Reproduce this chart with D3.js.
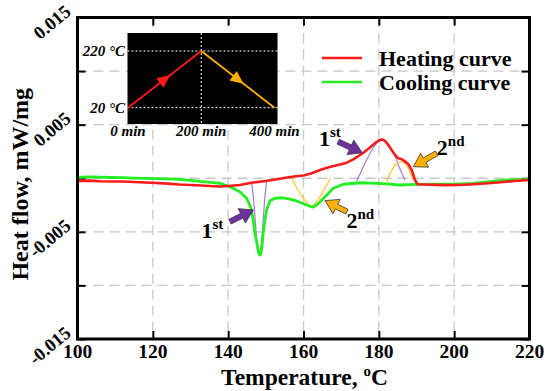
<!DOCTYPE html>
<html><head><meta charset="utf-8">
<script src="https://cdn.jsdelivr.net/npm/d3@7"></script>
<style>body{margin:0;background:#fff}svg{display:block}</style>
</head><body>
<svg id="c" width="550" height="391"></svg>
<script>
// ---------- data ----------
const xTicks = [100, 120, 140, 160, 180, 200, 220];
const yTicks = [-0.015, -0.010, -0.005, 0, 0.005, 0.010, 0.015];
const yLabelValues = [-0.015, -0.005, 0.005, 0.015];
const yLabelText = ["-0.015", "-0.005", "0.005", "0.015"];

const heatingTemp = [100,103,106,109,112,115,118,121,124,127,130,133,136,138,140,143,146.6,150,153,155.6,158,160,162,164.4,166,168,170,171.5,173.2,174.5,175.9,177.5,179,180.2,180.8,181.6,182.5,183.4,184.3,185.2,186.1,187.0,187.8,188.7,189.6,190.3,192,195,198,201,204,207,210,213,216,220];
const heatingFlow = [-0.00026,-0.00022,-0.00028,-0.00030,-0.00031,-0.00035,-0.00040,-0.00045,-0.00050,-0.00058,-0.00063,-0.00068,-0.00074,-0.00077,-0.00072,-0.00063,-0.00040,-0.00026,-0.00010,0.00007,0.00018,0.00026,0.00045,0.00077,0.00095,0.00114,0.00130,0.00145,0.00177,0.00205,0.00238,0.00282,0.00329,0.00355,0.00363,0.00350,0.00310,0.00264,0.00217,0.00186,0.00177,0.00155,0.00133,0.00077,-0.00016,-0.00056,-0.00058,-0.00062,-0.00064,-0.00063,-0.00058,-0.00052,-0.00044,-0.00035,-0.00026,-0.00016];

const coolingTemp = [100,103,106,109,112,115,118,121,124,127,130,133,136,137.8,140.5,143.1,144.9,145.7,146.2,146.7,147.1,147.6,148.0,148.3,148.6,148.9,149.3,149.8,150.2,151.1,152.4,154,155.5,158.2,160.8,162.4,163.5,164.4,166.2,167.9,170.6,175,179.4,182,185.6,190,195,200,205,210,214,220];
const coolingFlow = [0.00007,0.00012,0.00010,0.00007,0.00005,0.00002,-0.00001,-0.00003,-0.00006,-0.00010,-0.00020,-0.00032,-0.00040,-0.00047,-0.00079,-0.00125,-0.00187,-0.00250,-0.00296,-0.00400,-0.00511,-0.00600,-0.00680,-0.00716,-0.00710,-0.00660,-0.00511,-0.00380,-0.00296,-0.00210,-0.00187,-0.00182,-0.00187,-0.00212,-0.00250,-0.00271,-0.00250,-0.00219,-0.00156,-0.00094,-0.00056,-0.00042,-0.00047,-0.00052,-0.00063,-0.00058,-0.00056,-0.00054,-0.00047,-0.00030,-0.00016,-0.00010];

// deconvoluted component peaks
const coolPeak1Temp = [146.2,146.7,147.2,147.6,147.9,148.25,148.6,148.95,149.3,149.75,150.2];
const coolPeak1Flow = [-0.00032,-0.0018,-0.0040,-0.0058,-0.0067,-0.0071,-0.0068,-0.0056,-0.0039,-0.0018,-0.00032];
const coolPeak2Temp = [156.9,158.5,160.3,162.0,163.8,165.4,167.2];
const coolPeak2Flow = [0.00000,-0.00110,-0.00202,-0.00262,-0.00202,-0.00110,0.00000];
const heatPeak1Temp = [174.1,175.5,177.0,178.5,180.0,180.75,181.6,182.9,184.2,185.3,186.9];
const heatPeak1Flow = [-0.00026,0.00077,0.00189,0.00282,0.00348,0.00363,0.00352,0.00301,0.00217,0.00115,-0.00016];
const heatPeak2Temp = [182.1,183.2,184.6,186.1,187.1,188.0,189.1];
const heatPeak2Flow = [-0.00032,0.00058,0.00133,0.00154,0.00133,0.00077,-0.00016];

// annotation arrows: [tailT, tailV, tipT, tipV]
const arrowHeat1 = [169.2, 0.00341, 175.6, 0.00238];
const arrowHeat2 = [195.35, 0.00233, 189.15, 0.00108];
const arrowCool1 = [140.5, -0.00405, 146.7, -0.00296];
const arrowCool2 = [171.5, -0.00312, 165.7, -0.00209];
const labelNames = ["1", "2", "1", "2"];
const labelSups = ["st", "nd", "st", "nd"];
const labelTemp = [164.1, 195.4, 132.9, 171.4];
const labelFlow = [0.00301, 0.00217, -0.00557, -0.00464];

// inset program
const insetTime = [0, 200, 400];
const insetTemp = [20, 220, 20];
const insetTimeLabels = ["0 min", "200 min", "400 min"];
const insetTempLabels = ["20 °C", "220 °C"];

// ---------- drawing ----------
const svg = d3.select("#c");
const L = 77.5, R = 529.5, T = 17.5, B = 339;
const x = d3.scaleLinear().domain([100, 220]).range([L, R]);
const y = d3.scaleLinear().domain([-0.015, 0.015]).range([B, T]);
const serif = "'Liberation Serif','Times New Roman',serif";
const grid = "#c8c8c8";

// gridlines
svg.append("g").selectAll("line").data(xTicks.slice(1, -1)).join("line")
  .attr("x1", d => x(d)).attr("x2", d => x(d)).attr("y1", T).attr("y2", B)
  .attr("stroke", grid).attr("stroke-width", 1.3).attr("stroke-dasharray", "10,6");
svg.append("g").selectAll("line").data(yTicks.slice(1, -1)).join("line")
  .attr("y1", d => y(d)).attr("y2", d => y(d)).attr("x1", L).attr("x2", R)
  .attr("stroke", grid).attr("stroke-width", 1.3).attr("stroke-dasharray", "10,6");

// axes (ticks inward on all sides)
const tk = 8;
const axB = svg.append("g").attr("transform", `translate(0,${B})`).call(d3.axisTop(x).tickValues(xTicks).tickSize(tk).tickFormat(""));
const axT = svg.append("g").attr("transform", `translate(0,${T})`).call(d3.axisBottom(x).tickValues(xTicks).tickSize(tk).tickFormat(""));
const axL = svg.append("g").attr("transform", `translate(${L},0)`).call(d3.axisRight(y).tickValues(yTicks).tickSize(tk).tickFormat(""));
const axR = svg.append("g").attr("transform", `translate(${R},0)`).call(d3.axisLeft(y).tickValues(yTicks).tickSize(tk).tickFormat(""));
[axB, axT, axL, axR].forEach(a => { a.select(".domain").remove(); a.selectAll("line").attr("stroke", "#000").attr("stroke-width", 2); });

// tick labels
svg.append("g").selectAll("text").data(xTicks).join("text")
  .attr("x", d => x(d)).attr("y", 358).attr("text-anchor", "middle")
  .attr("font-family", serif).attr("font-weight", "bold").attr("font-size", 19.5).text(d => d);
svg.append("g").selectAll("text").data(yLabelValues).join("text")
  .attr("transform", d => `translate(72,${y(d) - 4}) rotate(-40)`).attr("text-anchor", "end")
  .attr("font-family", serif).attr("font-weight", "bold").attr("font-size", 18.5)
  .text((d, i) => yLabelText[i]);

// axis titles
svg.append("text").attr("transform", `translate(28,${(T + B) / 2 + 6}) rotate(-90)`).attr("text-anchor", "middle")
  .attr("font-family", serif).attr("font-weight", "bold").attr("font-size", 24).text("Heat flow, mW/mg");
const xt = svg.append("text").attr("x", (L + R) / 2 + 1).attr("y", 385).attr("text-anchor", "middle")
  .attr("font-family", serif).attr("font-weight", "bold").attr("font-size", 23.5);
xt.append("tspan").text("Temperature, ");
xt.append("tspan").attr("font-size", 15).attr("dy", -9).text("o");
xt.append("tspan").attr("dy", 9).text("C");

// curves
const line = d3.line().x(d => x(d[0])).y(d => y(d[1]));
const smooth = d3.line().x(d => x(d[0])).y(d => y(d[1])).curve(d3.curveCatmullRom);
const zip = (a, b) => a.map((v, i) => [v, b[i]]);
const thin = [[coolPeak1Temp, coolPeak1Flow, "#a77ad6"], [coolPeak2Temp, coolPeak2Flow, "#ffc425"],
              [heatPeak1Temp, heatPeak1Flow, "#a77ad6"], [heatPeak2Temp, heatPeak2Flow, "#ffc425"]];
thin.forEach(([a, b, c]) => svg.append("path").attr("d", smooth(zip(a, b))).attr("fill", "none").attr("stroke", c).attr("stroke-width", 1.2));
svg.append("path").attr("d", line(zip(coolingTemp, coolingFlow))).attr("fill", "none").attr("stroke", "#22ee22").attr("stroke-width", 2.8).attr("stroke-linejoin", "round");
svg.append("path").attr("d", line(zip(heatingTemp, heatingFlow))).attr("fill", "none").attr("stroke", "#ff1a1a").attr("stroke-width", 2.6).attr("stroke-linejoin", "round");

// fat arrows
function fatArrow(p0, p1, fill) {
  const dx = p1[0] - p0[0], dy = p1[1] - p0[1], len = Math.hypot(dx, dy);
  const ux = dx / len, uy = dy / len, nx = -uy, ny = ux;
  const hl = 13, hw = 8, sw = 2.6;
  const bx = p1[0] - ux * hl, by = p1[1] - uy * hl;
  const pts = [[p0[0] + nx * sw, p0[1] + ny * sw], [bx + nx * sw, by + ny * sw], [bx + nx * hw, by + ny * hw], p1,
               [bx - nx * hw, by - ny * hw], [bx - nx * sw, by - ny * sw], [p0[0] - nx * sw, p0[1] - ny * sw]];
  svg.append("polygon").attr("points", pts.map(p => p.join(",")).join(" "))
    .attr("fill", fill).attr("stroke", "#333").attr("stroke-width", 0.8);
}
[[arrowHeat1, "#7030a0"], [arrowHeat2, "#ffb000"], [arrowCool1, "#7030a0"], [arrowCool2, "#ffb000"]].forEach(([a, c]) =>
  fatArrow([x(a[0]), y(a[1])], [x(a[2]), y(a[3])], c));
labelNames.forEach((n, i) => {
  const t = svg.append("text").attr("x", x(labelTemp[i])).attr("y", y(labelFlow[i]))
    .attr("font-family", serif).attr("font-weight", "bold").attr("font-size", 22);
  t.append("tspan").text(n);
  t.append("tspan").attr("font-size", 15).attr("dy", -9).text(labelSups[i]);
});

// frame
svg.append("rect").attr("x", L).attr("y", T).attr("width", R - L).attr("height", B - T)
  .attr("fill", "none").attr("stroke", "#000").attr("stroke-width", 3);

// legend
const leg = [["Heating curve", "#ff1a1a", 58], ["Cooling curve", "#22ee22", 82]];
leg.forEach(([name, c, yy]) => {
  svg.append("line").attr("x1", 322).attr("x2", 362).attr("y1", yy).attr("y2", yy).attr("stroke", c).attr("stroke-width", 2.6);
  svg.append("text").attr("x", 379).attr("y", yy + 8).attr("font-family", serif).attr("font-weight", "bold").attr("font-size", 22).text(name);
});

// inset
const ix = d3.scaleLinear().domain([0, 400]).range([128, 274.5]);
const iy = d3.scaleLinear().domain([20, 220]).range([107.7, 51]);
svg.append("rect").attr("x", 127.5).attr("y", 33).attr("width", 150).attr("height", 91).attr("fill", "#000");
[20, 220].forEach(v => svg.append("line").attr("x1", 127.5).attr("x2", 277.5).attr("y1", iy(v)).attr("y2", iy(v))
  .attr("stroke", "#fff").attr("stroke-width", 1).attr("stroke-dasharray", "2,2"));
svg.append("line").attr("x1", ix(200)).attr("x2", ix(200)).attr("y1", 33).attr("y2", 124)
  .attr("stroke", "#fff").attr("stroke-width", 1).attr("stroke-dasharray", "2,2");
const segCols = ["#ff1a1a", "#ffb000"];
for (let i = 0; i < insetTime.length - 1; i++) {
  const a = [ix(insetTime[i]), iy(insetTemp[i])], b = [ix(insetTime[i + 1]), iy(insetTemp[i + 1])];
  svg.append("line").attr("x1", a[0]).attr("y1", a[1]).attr("x2", b[0]).attr("y2", b[1]).attr("stroke", segCols[i]).attr("stroke-width", 1.8);
  const m = [(a[0] + b[0]) / 2, (a[1] + b[1]) / 2], dx = b[0] - a[0], dy = b[1] - a[1], l = Math.hypot(dx, dy);
  const ux = dx / l, uy = dy / l;
  const tip = [m[0] + ux * 7, m[1] + uy * 7], base = [m[0] - ux * 6, m[1] - uy * 6];
  svg.append("polygon").attr("points", [tip, [base[0] - uy * 6, base[1] + ux * 6], [base[0] + uy * 6, base[1] - ux * 6]].map(p => p.join(",")).join(" "))
    .attr("fill", segCols[i]);
}
svg.append("g").selectAll("text").data(insetTime).join("text")
  .attr("x", d => ix(d)).attr("y", 136).attr("text-anchor", "middle")
  .attr("font-family", serif).attr("font-weight", "bold").attr("font-style", "italic").attr("font-size", 15)
  .text((d, i) => insetTimeLabels[i]);
svg.append("g").selectAll("text").data([20, 220]).join("text")
  .attr("x", 125).attr("y", d => iy(d) + 5).attr("text-anchor", "end")
  .attr("font-family", serif).attr("font-weight", "bold").attr("font-style", "italic").attr("font-size", 15)
  .text((d, i) => insetTempLabels[i]);
</script>
</body></html>
